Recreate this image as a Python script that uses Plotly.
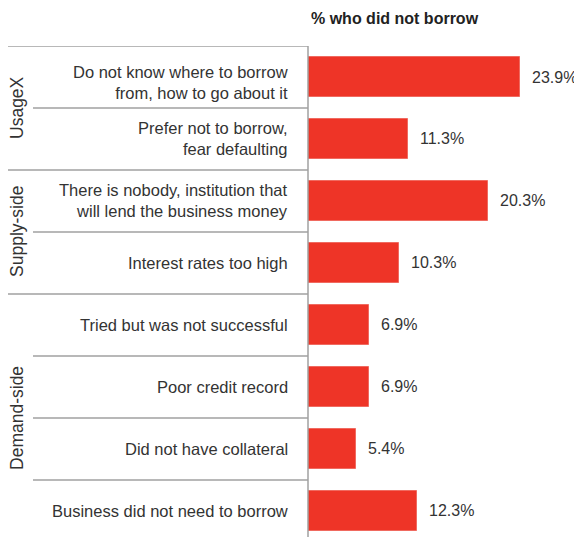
import plotly.graph_objects as go

categories = [
    "Do not know where to borrow<br>from, how to go about it",
    "Prefer not to borrow,<br>fear defaulting",
    "There is nobody, institution that<br>will lend the business money",
    "Interest rates too high",
    "Tried but was not successful",
    "Poor credit record",
    "Did not have collateral",
    "Business did not need to borrow",
]
values = [23.9, 11.3, 20.3, 10.3, 6.9, 6.9, 5.4, 12.3]
value_labels = ["23.9%", "11.3%", "20.3%", "10.3%", "6.9%", "6.9%", "5.4%", "12.3%"]
groups = ["UsageX", "Supply-side", "Demand-side"]
group_sizes = [2, 2, 4]
title_text = "% who did not borrow"

FONT = "Liberation Sans, Arial, sans-serif"
TXT = "#333333"
LINE = "#a0a0a0"
RED = "#ee3427"

pos = list(range(len(categories)))

fig = go.Figure()
fig.add_trace(go.Bar(
    x=values, y=pos, orientation="h", width=0.66,
    marker=dict(color=RED, line=dict(color="#f06a60", width=1)),
    hoverinfo="skip",
))

annotations = []
# value labels
for v, lab, p in zip(values, value_labels, pos):
    annotations.append(dict(x=v, y=p, xref="x", yref="y", text=lab, showarrow=False,
                            xanchor="left", yanchor="middle", xshift=10,
                            font=dict(family=FONT, size=16, color=TXT)))
# category labels
for i, (c, p) in enumerate(zip(categories, pos)):
    annotations.append(dict(x=0, y=p, xref="paper", yref="y", text=c, showarrow=False,
                            xanchor="right", yanchor="middle", align="right", xshift=-18,
                            yshift=-5 if i == 0 else 0,
                            font=dict(family=FONT, size=16.5, color=TXT)))

shapes = []
# top line
shapes.append(dict(type="line", xref="paper", yref="y", xanchor=0, xsizemode="pixel",
                   x0=-300, x1=0, y0=-0.5, y1=-0.5, line=dict(color=LINE, width=1.5)))
start = 0
for g, n in zip(groups, group_sizes):
    end = start + n
    # group label
    annotations.append(dict(x=0, y=(start + end - 1) / 2, xref="paper", yref="y", text=g,
                            showarrow=False, textangle=-90, xanchor="center", yanchor="middle",
                            xshift=-291, font=dict(family=FONT, size=17.5, color=TXT)))
    # inner lines
    for k in range(start + 1, end):
        shapes.append(dict(type="line", xref="paper", yref="y", xanchor=0, xsizemode="pixel",
                           x0=-275, x1=0, y0=k - 0.5, y1=k - 0.5,
                           line=dict(color=LINE, width=1.5)))
    # group boundary line
    if end < len(categories):
        shapes.append(dict(type="line", xref="paper", yref="y", xanchor=0, xsizemode="pixel",
                           x0=-300, x1=0, y0=end - 0.5, y1=end - 0.5,
                           line=dict(color=LINE, width=1.5)))
    start = end

# vertical axis line
shapes.append(dict(type="line", xref="paper", yref="paper", x0=0, x1=0, y0=0, y1=1,
                   line=dict(color=LINE, width=1.5)))

annotations.append(dict(x=0, y=1, xref="paper", yref="paper", text="<b>" + title_text + "</b>",
                        showarrow=False, xanchor="left", yanchor="middle", xshift=1, yshift=28,
                        font=dict(family=FONT, size=16, color="#222222")))

fig.update_layout(
    width=574, height=529,
    margin=dict(l=300, r=0, t=38, b=0),
    plot_bgcolor="white", paper_bgcolor="white",
    showlegend=False,
    xaxis=dict(range=[0, 30.9], visible=False, fixedrange=True),
    yaxis=dict(range=[7.42, -0.5], visible=False, fixedrange=True),
    annotations=annotations,
    shapes=shapes,
    bargap=0,
)

fig.write_html("out.html")
